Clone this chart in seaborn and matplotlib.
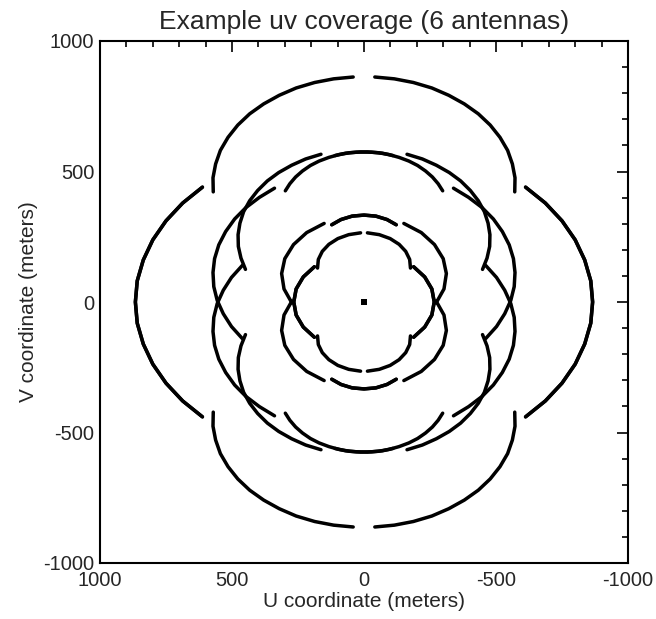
import pandas as pd
import matplotlib
matplotlib.use("Agg")
import matplotlib.pyplot as plt
import seaborn as sns
from matplotlib.ticker import MultipleLocator

# ---- uv track samples (meters), one quadrant-set per baseline type ----
# long E-W baseline
bigEW_u = [612, 687, 750, 800, 836, 859, 866, 859, 836, 800, 750, 687, 612]
bigEW_v = [-440, -379, -311, -238, -161, -81, 0, 81, 161, 238, 311, 379, 440]
# long oblique baseline
big60_u = [571, 572, 562, 544, 515, 478, 433, 380, 321, 257, 187, 115, 41]
big60_v = [422, 476, 529, 581, 631, 678, 721, 759, 792, 820, 841, 855, 862]
# middle baselines
midA_u = [461, 502, 533, 556, 569, 572, 566, 550, 524, 490, 447, 396, 339]
midA_v = [-140, -94, -45, 6, 59, 113, 166, 219, 270, 318, 362, 401, 436]
midB_u = [449, 466, 476, 477, 470, 456, 433, 403, 366, 323, 274, 221, 163]
midB_v = [125, 168, 213, 258, 302, 346, 388, 427, 464, 496, 524, 548, 566]
midC_u = [-110, -70, -29, 13, 54, 94, 133, 170, 203, 233, 259, 281, 298]
midC_v = [-561, -570, -574, -575, -572, -565, -554, -540, -523, -502, -479, -453, -426]
# short baselines
smEW_u = [188, 230, 257, 266, 257, 230, 188]
smEW_v = [-135, -96, -50, 0, 50, 96, 135]
sm60_u = [176, 173, 158, 133, 99, 58, 13]
sm60_v = [130, 163, 194, 221, 243, 258, 265]
inA_u = [273, 303, 312, 300, 267, 217, 151]
inA_v = [-4, 50, 109, 166, 220, 266, 301]
inNS_u = [122, 87, 45, 0, -45, -87, -122]
inNS_v = [296, 316, 329, 333, 329, 316, 296]
# zero spacing
zero_u = [0]
zero_v = [0]

tracks = {
    'bigEW': (bigEW_u, bigEW_v), 'big60': (big60_u, big60_v),
    'midA': (midA_u, midA_v), 'midB': (midB_u, midB_v), 'midC': (midC_u, midC_v),
    'smEW': (smEW_u, smEW_v), 'sm60': (sm60_u, sm60_v),
    'inA': (inA_u, inA_v), 'inNS': (inNS_u, inNS_v),
}
# each sample appears with its conjugate (-u,-v) and for the mirrored (E-W) baseline
reflections = [(1, 1), (-1, 1), (1, -1), (-1, -1)]
frames = []
for name, (us, vs) in tracks.items():
    for k, (su, sv) in enumerate(reflections):
        frames.append(pd.DataFrame({'u': [su * x for x in us],
                                    'v': [sv * y for y in vs],
                                    'track': f'{name}{k}'}))
df = pd.concat(frames, ignore_index=True)

sns.set_theme(style="white")
plt.rcParams['font.family'] = ['Liberation Sans', 'DejaVu Sans']
plt.rcParams['axes.unicode_minus'] = False

fig = plt.figure(figsize=(6.56, 6.19), dpi=100)
ax = fig.add_axes([100/656, 1-563/619, 528/656, 522/619])
sns.lineplot(data=df, x='u', y='v', units='track', estimator=None, sort=False,
             color='black', lw=2.5, ax=ax, legend=False)
sns.scatterplot(x=zero_u, y=zero_v, marker='s', s=14, color='black',
                edgecolor='none', ax=ax, legend=False)
ax.set_xlim(1000, -1000)
ax.set_ylim(-1000, 1000)
ax.xaxis.set_major_locator(MultipleLocator(500))
ax.xaxis.set_minor_locator(MultipleLocator(100))
ax.yaxis.set_major_locator(MultipleLocator(500))
ax.yaxis.set_minor_locator(MultipleLocator(100))
ax.tick_params(which='both', direction='in', top=True, right=True, color='black', width=1.2)
ax.tick_params(which='major', length=8, labelsize=14.5)
ax.tick_params(which='minor', length=4)
ax.tick_params(axis='x', pad=6)
ax.tick_params(axis='y', pad=4)
for s in ax.spines.values():
    s.set_color('black')
    s.set_linewidth(1.5)
ax.set_xlabel('U coordinate (meters)', fontsize=15, labelpad=1)
ax.set_ylabel('V coordinate (meters)', fontsize=15, labelpad=4)
ax.set_title('Example uv coverage (6 antennas)', fontsize=19, pad=9)
fig.savefig('out.png', dpi=100)
